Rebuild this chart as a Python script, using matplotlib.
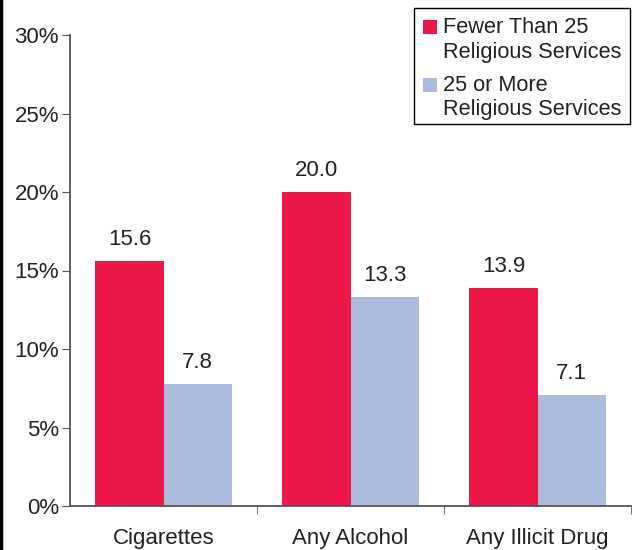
import numpy as np
import matplotlib.pyplot as plt
from matplotlib.patches import Rectangle
from matplotlib.lines import Line2D

plt.rcParams['font.family'] = ['Liberation Sans', 'DejaVu Sans']

categories = ['Cigarettes', 'Any Alcohol', 'Any Illicit Drug']
fewer = [15.6, 20.0, 13.9]
more = [7.8, 13.3, 7.1]
series_names = ['Fewer Than 25\nReligious Services', '25 or More\nReligious Services']
red = '#EE1749'
blue = '#AABBDD'
FS = 16

W, H = 633, 550
fig = plt.figure(figsize=(W / 100, H / 100), dpi=100)
ax = fig.add_axes([70 / W, 44 / H, 561 / W, 471 / H])

x = np.arange(len(categories))
w = 0.364
ax.bar(x - w / 2, fewer, w, color=red)
ax.bar(x + w / 2, more, w, color=blue)

for xi, v in zip(x - w / 2, fewer):
    ax.text(xi, v + 0.7, f'{v:.1f}', ha='center', va='bottom', fontsize=FS, color='#222222')
for xi, v in zip(x + w / 2, more):
    ax.text(xi, v + 0.7, f'{v:.1f}', ha='center', va='bottom', fontsize=FS, color='#222222')

ax.set_xlim(-0.5, len(categories) - 0.5)
ax.set_ylim(0, 30)
ax.set_yticks(np.arange(0, 31, 5))
ax.set_yticklabels([f'{t}%' for t in range(0, 31, 5)], fontsize=FS, color='#222222')
ax.set_xticks(x)
ax.set_xticklabels(categories, fontsize=FS, color='#222222')
ax.tick_params(axis='x', length=0, pad=16)
ax.set_xticks(np.arange(0.5, len(categories), 1.0), minor=True)
ax.tick_params(axis='x', which='minor', length=6, color='#555555', direction='out')
ax.tick_params(axis='y', length=6, color='#555555', direction='out', pad=2)

for s in ['top', 'right']:
    ax.spines[s].set_visible(False)
for s in ['left', 'bottom']:
    ax.spines[s].set_color('#555555')
    ax.spines[s].set_linewidth(1.3)

# left border line of the original frame
fig.add_artist(Line2D([0.002, 0.002], [0, 1], color='black', linewidth=2.5,
                      transform=fig.transFigure))

# legend drawn by hand (pixel coordinates from top-left)
def px(xp, yp):
    return xp / W, 1 - yp / H

fig.add_artist(Rectangle(px(414, 124), 216 / W, 116 / H, transform=fig.transFigure,
                         facecolor='white', edgecolor='black', linewidth=1.0))
baselines = [(33, 58), (91, 115)]
for name, col, (b1, b2) in zip(series_names, [red, blue], baselines):
    fig.add_artist(Rectangle(px(423, b1 + 1), 14 / W, 14 / H, transform=fig.transFigure,
                             facecolor=col, edgecolor='none'))
    lines = name.split('\n')
    for line, b in zip(lines, (b1, b2)):
        fig.text(*px(443, b), line, ha='left', va='baseline', fontsize=15.7, color='#222222')

fig.savefig('out.png', dpi=100)
